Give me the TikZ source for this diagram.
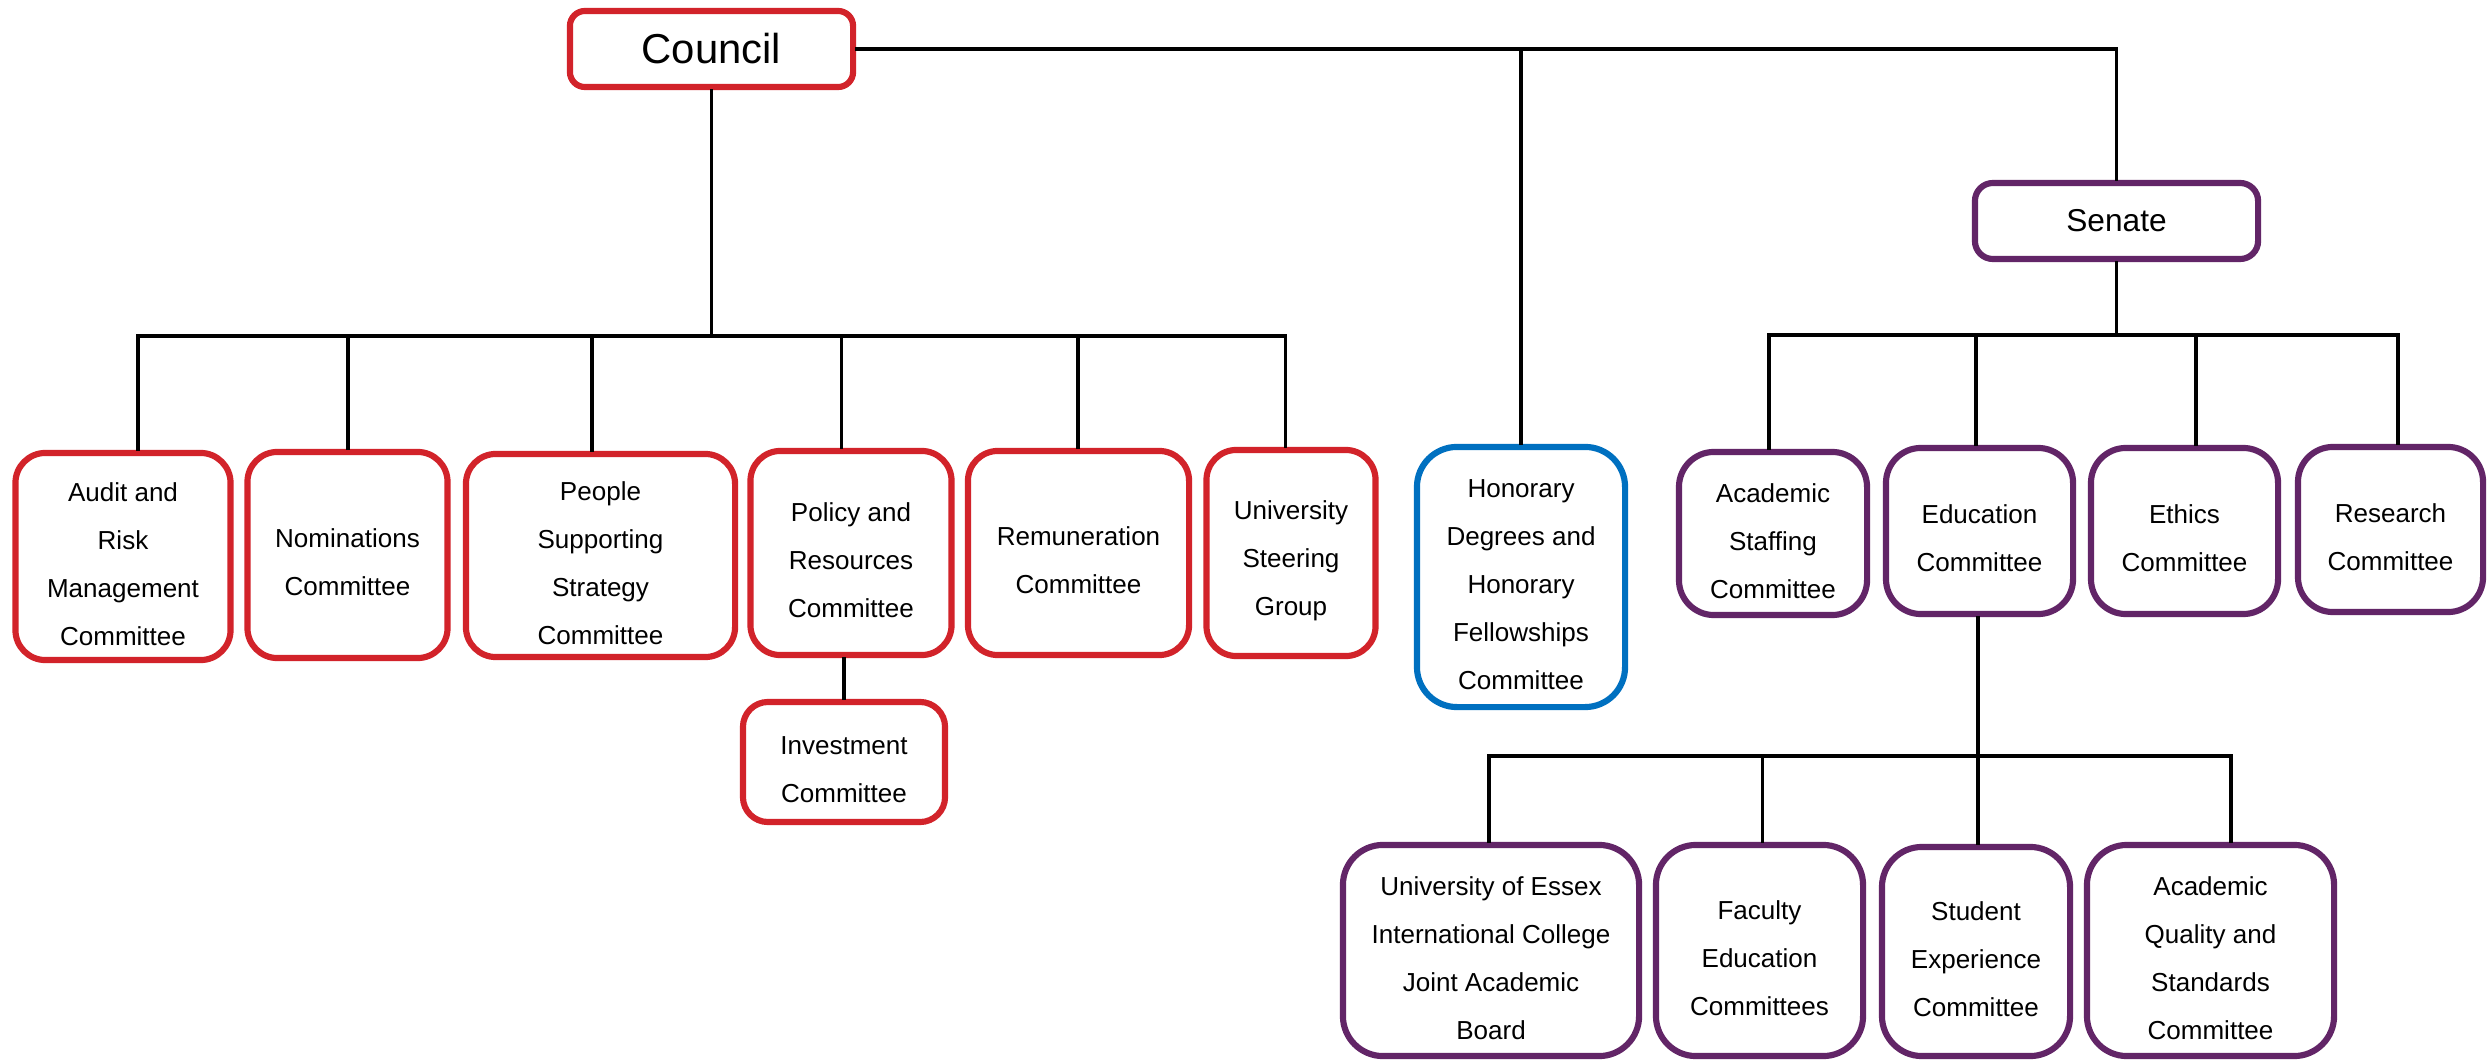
\documentclass[tikz,border=0pt]{standalone}
\usepackage{fontspec}
\setmainfont{Liberation Sans}
\definecolor{essexred}{HTML}{D2232A}
\definecolor{essexpurple}{HTML}{622567}
\definecolor{essexblue}{HTML}{0070C0}
\newcommand{\tstrut}{\rule{0pt}{9.6pt}}
\begin{document}
\begin{tikzpicture}[x=0.01cm,y=-0.01cm,
  box/.style={draw=#1, line width=1.75pt, rounded corners=0.3cm, inner sep=0pt,
    align=center, font=\fontsize{7.4}{13.66}\selectfont},
  conn/.style={line width=0.9pt, draw=black, line cap=rect}]
\fill[white] (0,0) rectangle (2491,1061);
\useasboundingbox (0,0) rectangle (2491,1061);

% Council side
\node[box=essexred, rounded corners=0.15cm, minimum width=2.83cm, minimum height=0.76cm,
  font=\fontsize{11.9}{14}\selectfont] (council) at (711.5,49) {Council};
\node[box=essexred, minimum width=2.15cm, minimum height=2.07cm] (audit) at (123,556.5)
  {\tstrut Audit and\\Risk\\Management\\Committee};
\node[box=essexred, minimum width=2.00cm, minimum height=2.06cm] (nom) at (347.5,555)
  {\tstrut Nominations\\Committee};
\node[box=essexred, minimum width=2.69cm, minimum height=2.03cm] (people) at (600.5,555.5)
  {\tstrut People\\Supporting\\Strategy\\Committee};
\node[box=essexred, minimum width=2.01cm, minimum height=2.04cm] (policy) at (851,553)
  {\tstrut Policy and\\Resources\\Committee};
\node[box=essexred, minimum width=2.21cm, minimum height=2.04cm] (remun) at (1078.5,553)
  {\tstrut Remuneration\\Committee};
\node[box=essexred, minimum width=1.69cm, minimum height=2.06cm] (usg) at (1291,553)
  {\tstrut University\\Steering\\Group};
\node[box=essexred, rounded corners=0.25cm, minimum width=2.02cm, minimum height=1.20cm] (invest) at (844,762)
  {\tstrut Investment\\Committee};

% Honorary
\node[box=essexblue, rounded corners=0.4cm, minimum width=2.08cm, minimum height=2.60cm] (honorary) at (1521,577)
  {\tstrut Honorary\\Degrees and\\Honorary\\Fellowships\\Committee};

% Senate side
\node[box=essexpurple, rounded corners=0.18cm, minimum width=2.83cm, minimum height=0.76cm,
  font=\fontsize{9}{11}\selectfont] (senate) at (2116.5,221) {Senate};
\node[box=essexpurple, rounded corners=0.35cm, minimum width=1.88cm, minimum height=1.63cm] (acad) at (1773,533.5)
  {\tstrut Academic\\Staffing\\Committee};
\node[box=essexpurple, rounded corners=0.35cm, minimum width=1.87cm, minimum height=1.66cm] (edu) at (1979.5,531)
  {\tstrut Education\\Committee};
\node[box=essexpurple, rounded corners=0.35cm, minimum width=1.87cm, minimum height=1.66cm] (ethics) at (2184.5,531)
  {\tstrut Ethics\\Committee};
\node[box=essexpurple, rounded corners=0.35cm, minimum width=1.85cm, minimum height=1.65cm] (research) at (2390.5,529.5)
  {\tstrut Research\\Committee};
\node[box=essexpurple, rounded corners=0.4cm, minimum width=2.96cm, minimum height=2.11cm] (uoe) at (1491,950.5)
  {\tstrut University of Essex\\International College\\Joint Academic\\Board};
\node[box=essexpurple, rounded corners=0.4cm, minimum width=2.07cm, minimum height=2.11cm] (fac) at (1759.5,950.5)
  {\tstrut Faculty\\Education\\Committees};
\node[box=essexpurple, rounded corners=0.4cm, minimum width=1.88cm, minimum height=2.09cm] (stu) at (1976,951.5)
  {\tstrut Student\\Experience\\Committee};
\node[box=essexpurple, rounded corners=0.4cm, minimum width=2.47cm, minimum height=2.11cm] (aqs) at (2210.5,950.5)
  {\tstrut Academic\\Quality and\\Standards\\Committee};

% top connectors
\draw[conn] (council.east) -- (council.east -| senate.north) -- (senate.north);
\draw[conn] (council.east -| honorary.north) -- (honorary.north);

% council children
\coordinate (cbar) at (711.5,336);
\draw[conn] (council.south) -- (cbar);
\foreach \x/\n in {138/audit, 348/nom, 592/people, 841.5/policy, 1078/remun, 1285.5/usg} {
  \coordinate (b\n) at (\x,336);
  \draw[conn] (b\n) -- (b\n |- \n.north);
}
\draw[conn] (baudit) -- (busg);
\draw[conn] (invest.north |- policy.south) -- (invest.north);

% senate children
\coordinate (sbar) at (2116.5,335);
\draw[conn] (senate.south) -- (sbar);
\foreach \x/\n in {1769/acad, 1976/edu, 2196/ethics, 2398/research} {
  \coordinate (s\n) at (\x,335);
  \draw[conn] (s\n) -- (s\n |- \n.north);
}
\draw[conn] (sacad) -- (sresearch);

% education children
\coordinate (ebar) at (1978,756);
\draw[conn] (edu.south -| ebar) -- (ebar);
\foreach \x/\n in {1489/uoe, 1762.6/fac, 1978/stu, 2231/aqs} {
  \coordinate (e\n) at (\x,756);
  \draw[conn] (e\n) -- (e\n |- \n.north);
}
\draw[conn] (euoe) -- (eaqs);
\end{tikzpicture}
\end{document}
